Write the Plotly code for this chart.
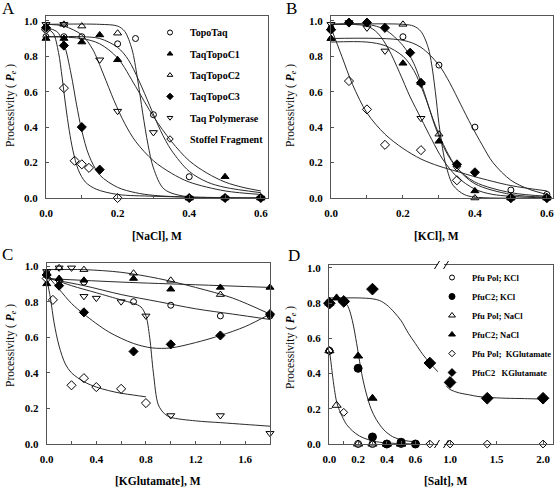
import plotly.graph_objects as go

# ---------------- DATA ----------------
# Panel A: [NaCl]
A_topotaq_x = [0, 0.05, 0.1, 0.2, 0.25, 0.3, 0.4, 0.5, 0.6]
A_topotaq_y = [0.91, 0.91, 0.91, 0.87, 0.90, 0.47, 0.12, 0.0, 0.0]
A_c1_x = [0, 0.05, 0.1, 0.15, 0.2, 0.4, 0.5, 0.6]
A_c1_y = [0.90, 0.90, 0.88, 0.92, 0.78, 0.0, 0.12, 0.0]
A_c2_x = [0, 0.05, 0.1, 0.2, 0.4, 0.5, 0.6]
A_c2_y = [0.97, 0.98, 0.97, 0.93, 0.0, 0.0, 0.0]
A_c3_x = [0, 0.05, 0.1, 0.15, 0.4, 0.5, 0.6]
A_c3_y = [0.96, 0.86, 0.40, 0.16, 0.0, 0.0, 0.0]
A_taq_x = [0, 0.05, 0.15, 0.2, 0.3, 0.4, 0.5, 0.6]
A_taq_y = [0.98, 0.98, 0.78, 0.49, 0.37, 0.0, 0.0, 0.0]
A_stof_x = [0, 0.05, 0.08, 0.1, 0.12, 0.2]
A_stof_y = [0.95, 0.62, 0.21, 0.19, 0.17, 0.0]

A_fit_stof_x = [0, 0.02, 0.035, 0.045, 0.055, 0.065, 0.075, 0.09, 0.11, 0.14, 0.2, 0.3, 0.4, 0.6]
A_fit_stof_y = [0.96, 0.93, 0.82, 0.68, 0.52, 0.38, 0.27, 0.16, 0.09, 0.05, 0.02, 0.01, 0.005, 0.0]
A_fit_c3_x = [0, 0.03, 0.05, 0.07, 0.085, 0.1, 0.12, 0.15, 0.2, 0.25, 0.3, 0.4, 0.6]
A_fit_c3_y = [0.96, 0.94, 0.87, 0.70, 0.53, 0.38, 0.24, 0.13, 0.06, 0.03, 0.015, 0.005, 0.0]
A_fit_taq_x = [0, 0.05, 0.1, 0.13, 0.16, 0.19, 0.22, 0.25, 0.3, 0.35, 0.4, 0.5, 0.6]
A_fit_taq_y = [0.98, 0.97, 0.92, 0.84, 0.70, 0.55, 0.42, 0.32, 0.21, 0.14, 0.09, 0.04, 0.02]
A_fit_topo_x = [0, 0.1, 0.15, 0.2, 0.23, 0.26, 0.29, 0.32, 0.35, 0.4, 0.45, 0.5, 0.6]
A_fit_topo_y = [0.91, 0.91, 0.90, 0.85, 0.78, 0.66, 0.52, 0.38, 0.27, 0.15, 0.09, 0.06, 0.03]
A_fit_c1_x = [0, 0.1, 0.15, 0.2, 0.25, 0.3, 0.35, 0.4, 0.45, 0.5, 0.55, 0.6]
A_fit_c1_y = [0.91, 0.90, 0.87, 0.79, 0.63, 0.46, 0.32, 0.21, 0.14, 0.09, 0.06, 0.04]
A_fit_c2_x = [0, 0.15, 0.2, 0.22, 0.24, 0.255, 0.27, 0.285, 0.3, 0.33, 0.4, 0.6]
A_fit_c2_y = [0.98, 0.98, 0.97, 0.94, 0.84, 0.68, 0.48, 0.30, 0.17, 0.05, 0.005, 0.0]

# Panel B: [KCl]
B_topotaq_x = [0, 0.2, 0.3, 0.4, 0.5, 0.6]
B_topotaq_y = [0.96, 0.91, 0.75, 0.40, 0.045, 0.02]
B_c1_x = [0, 0.2, 0.25, 0.3, 0.4, 0.5, 0.6]
B_c1_y = [0.90, 0.76, 0.65, 0.32, 0.04, 0.0, 0.0]
B_c2_x = [0, 0.2, 0.3, 0.4, 0.5, 0.6]
B_c2_y = [0.90, 0.98, 0.36, 0.0, 0.0, 0.0]
B_c3_x = [0, 0.05, 0.1, 0.15, 0.22, 0.25, 0.35, 0.4, 0.5, 0.6]
B_c3_y = [0.95, 0.99, 0.99, 0.96, 0.82, 0.65, 0.19, 0.145, 0.0, 0.0]
B_taq_x = [0, 0.05, 0.1, 0.15, 0.25, 0.35, 0.5, 0.6]
B_taq_y = [0.98, 0.99, 0.96, 0.83, 0.45, 0.17, 0.0, 0.0]
B_stof_x = [0, 0.05, 0.1, 0.15, 0.25, 0.35, 0.5, 0.6]
B_stof_y = [0.95, 0.66, 0.50, 0.30, 0.27, 0.10, 0.0, 0.0]

B_fit_stof_x = [0, 0.03, 0.06, 0.1, 0.15, 0.2, 0.25, 0.3, 0.35, 0.4, 0.5, 0.6]
B_fit_stof_y = [0.96, 0.80, 0.64, 0.48, 0.36, 0.28, 0.22, 0.18, 0.15, 0.12, 0.07, 0.04]
B_fit_taq_x = [0, 0.1, 0.13, 0.16, 0.19, 0.22, 0.25, 0.28, 0.31, 0.35, 0.4, 0.45, 0.6]
B_fit_taq_y = [0.98, 0.97, 0.93, 0.84, 0.71, 0.57, 0.45, 0.33, 0.22, 0.12, 0.05, 0.02, 0.0]
B_fit_topo_x = [0, 0.2, 0.25, 0.3, 0.33, 0.36, 0.39, 0.42, 0.45, 0.5, 0.55, 0.6]
B_fit_topo_y = [0.90, 0.89, 0.85, 0.75, 0.65, 0.53, 0.41, 0.30, 0.20, 0.10, 0.05, 0.02]
B_fit_c2_x = [0, 0.2, 0.23, 0.25, 0.27, 0.28, 0.29, 0.3, 0.31, 0.32, 0.34, 0.37, 0.4, 0.6]
B_fit_c2_y = [0.98, 0.98, 0.97, 0.94, 0.85, 0.75, 0.60, 0.42, 0.28, 0.18, 0.07, 0.02, 0.005, 0.0]
B_fit_c3_x = [0, 0.1, 0.15, 0.2, 0.23, 0.26, 0.29, 0.32, 0.35, 0.4, 0.5, 0.6]
B_fit_c3_y = [0.98, 0.98, 0.95, 0.86, 0.76, 0.59, 0.40, 0.26, 0.17, 0.09, 0.03, 0.01]
B_fit_c1_x = [0, 0.1, 0.15, 0.2, 0.23, 0.26, 0.29, 0.32, 0.35, 0.4, 0.5, 0.6]
B_fit_c1_y = [0.88, 0.88, 0.86, 0.80, 0.72, 0.58, 0.41, 0.27, 0.17, 0.08, 0.02, 0.005]

# Panel C: [KGlutamate]
C_topotaq_x = [0, 0.1, 0.3, 0.7, 1.0, 1.4, 1.8]
C_topotaq_y = [0.96, 0.92, 0.91, 0.80, 0.78, 0.72, 0.72]
C_c1_x = [0, 0.1, 0.3, 0.7, 1.0, 1.4, 1.8]
C_c1_y = [0.90, 0.93, 0.92, 0.93, 0.87, 0.88, 0.88]
C_c2_x = [0, 0.1, 0.3, 0.7, 1.0, 1.4, 1.8]
C_c2_y = [0.96, 0.99, 0.98, 0.96, 0.92, 0.84, 0.73]
C_c3_x = [0, 0.1, 0.3, 0.7, 1.0, 1.4, 1.8]
C_c3_y = [0.95, 0.89, 0.74, 0.52, 0.56, 0.61, 0.73]
C_taq_x = [0, 0.1, 0.2, 0.3, 0.4, 0.6, 0.8, 1.0, 1.4, 1.8]
C_taq_y = [0.97, 0.99, 0.99, 0.83, 0.82, 0.80, 0.72, 0.16, 0.16, 0.06]
C_stof_x = [0, 0.05, 0.2, 0.3, 0.4, 0.6, 0.8]
C_stof_y = [0.93, 0.81, 0.33, 0.37, 0.32, 0.31, 0.23]

C_fit_stof_x = [0, 0.03, 0.06, 0.1, 0.15, 0.2, 0.3, 0.4, 0.5, 0.6, 0.7, 0.8]
C_fit_stof_y = [0.93, 0.82, 0.68, 0.55, 0.45, 0.40, 0.35, 0.32, 0.30, 0.285, 0.275, 0.265]
C_fit_taq_x = [0, 0.2, 0.4, 0.6, 0.7, 0.76, 0.8, 0.83, 0.86, 0.9, 0.95, 1.0, 1.2, 1.4, 1.6, 1.8]
C_fit_taq_y = [0.94, 0.89, 0.85, 0.81, 0.79, 0.77, 0.72, 0.60, 0.40, 0.22, 0.17, 0.15, 0.13, 0.12, 0.11, 0.10]
C_fit_c3_x = [0, 0.1, 0.2, 0.3, 0.5, 0.7, 0.85, 1.0, 1.2, 1.4, 1.6, 1.8]
C_fit_c3_y = [0.95, 0.87, 0.79, 0.73, 0.63, 0.565, 0.54, 0.54, 0.57, 0.61, 0.66, 0.73]
C_fit_topo_x = [0, 0.3, 0.6, 0.9, 1.2, 1.5, 1.8]
C_fit_topo_y = [0.93, 0.89, 0.84, 0.80, 0.76, 0.73, 0.70]
C_fit_c1_x = [0, 0.6, 1.2, 1.8]
C_fit_c1_y = [0.93, 0.91, 0.895, 0.88]
C_fit_c2_x = [0, 0.3, 0.6, 0.9, 1.2, 1.5, 1.8]
C_fit_c2_y = [0.98, 0.98, 0.965, 0.93, 0.88, 0.82, 0.73]

# Panel D: [Salt], Pfu
D_pol_kcl_x = [0, 0.2, 0.3, 0.4, 0.5, 0.6]
D_pol_kcl_y = [0.53, 0.0, 0.0, 0.0, 0.0, 0.0]
D_c2_kcl_x = [0, 0.2, 0.3, 0.4, 0.5, 0.6]
D_c2_kcl_y = [0.80, 0.43, 0.04, 0.0, 0.01, 0.0]
D_pol_nacl_x = [0, 0.05, 0.2, 0.3, 0.4, 0.5]
D_pol_nacl_y = [0.53, 0.22, 0.0, 0.0, 0.0, 0.0]
D_c2_nacl_x = [0, 0.05, 0.2, 0.3, 0.4, 0.5]
D_c2_nacl_y = [0.80, 0.83, 0.50, 0.26, 0.0, 0.0]
D_pol_kglu_x = [0, 0.1, 0.7, 1.0, 1.4, 2.0]
D_pol_kglu_y = [0.53, 0.18, 0.0, 0.0, 0.0, 0.0]
D_c2_kglu_x = [0, 0.1, 0.3, 0.7, 1.0, 1.4, 2.0]
D_c2_kglu_y = [0.80, 0.81, 0.88, 0.46, 0.35, 0.26, 0.26]

D_fit_pol_x = [0, 0.01, 0.02, 0.035, 0.05, 0.07, 0.09, 0.12, 0.16, 0.21, 0.27, 0.35, 0.45, 0.6]
D_fit_pol_y = [0.53, 0.47, 0.40, 0.31, 0.24, 0.19, 0.155, 0.11, 0.075, 0.045, 0.025, 0.01, 0.004, 0.0]
D_fit_c2_x = [0, 0.05, 0.1, 0.13, 0.16, 0.19, 0.21, 0.23, 0.256, 0.29, 0.326, 0.38, 0.44, 0.52, 0.6]
D_fit_c2_y = [0.82, 0.82, 0.81, 0.78, 0.70, 0.57, 0.47, 0.38, 0.29, 0.20, 0.14, 0.08, 0.042, 0.02, 0.013]
D_fit_kglu_left_x = [0, 0.1, 0.2, 0.3, 0.35, 0.4, 0.45, 0.5, 0.55, 0.6, 0.65, 0.7, 0.757]
D_fit_kglu_left_y = [0.83, 0.83, 0.83, 0.825, 0.815, 0.79, 0.75, 0.70, 0.63, 0.57, 0.51, 0.46, 0.41]
D_fit_kglu_right_x = [0.96, 1.0, 1.1, 1.2, 1.3, 1.4, 1.6, 1.8, 2.0]
D_fit_kglu_right_y = [0.33, 0.31, 0.29, 0.28, 0.27, 0.265, 0.26, 0.258, 0.255]

D_BREAK = 0.8

LEGEND_A = ["TopoTaq", "TaqTopoC1", "TaqTopoC2", "TaqTopoC3", "Taq Polymerase", "Stoffel Fragment"]
LEGEND_D = ["Pfu Pol; KCl", "PfuC2; KCl", "Pfu Pol; NaCl", "PfuC2; NaCl",
            "Pfu Pol;\u00a0 KGlutamate", "PfuC2\u00a0\u00a0 KGlutamate"]

# ---------------- LAYOUT HELPERS ----------------
W, H = 556, 489
FONT = "Liberation Serif"


def px(x):
    return x / W


def py(y):
    return 1 - y / H


fig = go.Figure()


def add_fit(x, y, xa, ya):
    fig.add_trace(go.Scatter(x=x, y=y, mode="lines", xaxis=xa, yaxis=ya,
                             line=dict(color="#2a2a2a", width=1, shape="spline", smoothing=0.9),
                             showlegend=False, hoverinfo="skip"))


def add_pts(x, y, name, symbol, size, xa, ya):
    fig.add_trace(go.Scatter(x=x, y=y, mode="markers", name=name, xaxis=xa, yaxis=ya,
                             marker=dict(symbol=symbol, size=size, color="black",
                                         line=dict(color="black", width=1)),
                             cliponaxis=False, showlegend=False))


def add_key(name, symbol, size, xa, ya, legend):
    # legend-only entry (no data) so the key symbol can be drawn small, as in the original
    fig.add_trace(go.Scatter(x=[None], y=[None], mode="markers", name=name, xaxis=xa, yaxis=ya,
                             marker=dict(symbol=symbol, size=size, color="black",
                                         line=dict(color="black", width=1)),
                             showlegend=True, legend=legend, legendgroup=legend + name))


# Panel A
for fx, fy in [(A_fit_stof_x, A_fit_stof_y), (A_fit_c3_x, A_fit_c3_y), (A_fit_taq_x, A_fit_taq_y),
               (A_fit_topo_x, A_fit_topo_y), (A_fit_c1_x, A_fit_c1_y), (A_fit_c2_x, A_fit_c2_y)]:
    add_fit(fx, fy, "x", "y")

symA = [("circle-open", 6), ("triangle-up", 7), ("triangle-up-open", 7),
        ("diamond", 7), ("triangle-down-open", 7), ("diamond-open", 7)]
seriesA = [(A_topotaq_x, A_topotaq_y), (A_c1_x, A_c1_y), (A_c2_x, A_c2_y),
           (A_c3_x, A_c3_y), (A_taq_x, A_taq_y), (A_stof_x, A_stof_y)]
for (sx, sy), name, (sym, sz) in zip(seriesA, LEGEND_A, symA):
    add_pts(sx, sy, name, sym, sz, "x", "y")
for name, (sym, sz) in zip(LEGEND_A, symA):
    add_key(name, sym, 5, "x", "y", "legend")

# Panel B
for fx, fy in [(B_fit_stof_x, B_fit_stof_y), (B_fit_taq_x, B_fit_taq_y), (B_fit_topo_x, B_fit_topo_y),
               (B_fit_c2_x, B_fit_c2_y), (B_fit_c3_x, B_fit_c3_y), (B_fit_c1_x, B_fit_c1_y)]:
    add_fit(fx, fy, "x2", "y2")
seriesB = [(B_topotaq_x, B_topotaq_y), (B_c1_x, B_c1_y), (B_c2_x, B_c2_y),
           (B_c3_x, B_c3_y), (B_taq_x, B_taq_y), (B_stof_x, B_stof_y)]
for (sx, sy), name, (sym, sz) in zip(seriesB, LEGEND_A, symA):
    add_pts(sx, sy, name, sym, sz, "x2", "y2")

# Panel C
for fx, fy in [(C_fit_stof_x, C_fit_stof_y), (C_fit_taq_x, C_fit_taq_y), (C_fit_c3_x, C_fit_c3_y),
               (C_fit_topo_x, C_fit_topo_y), (C_fit_c1_x, C_fit_c1_y), (C_fit_c2_x, C_fit_c2_y)]:
    add_fit(fx, fy, "x3", "y3")
seriesC = [(C_topotaq_x, C_topotaq_y), (C_c1_x, C_c1_y), (C_c2_x, C_c2_y),
           (C_c3_x, C_c3_y), (C_taq_x, C_taq_y), (C_stof_x, C_stof_y)]
for (sx, sy), name, (sym, sz) in zip(seriesC, LEGEND_A, symA):
    add_pts(sx, sy, name, sym, sz, "x3", "y3")

# Panel D
add_fit(D_fit_pol_x, D_fit_pol_y, "x4", "y4")
add_fit(D_fit_c2_x, D_fit_c2_y, "x4", "y4")
add_fit(D_fit_kglu_left_x, D_fit_kglu_left_y, "x4", "y4")
add_fit(D_fit_kglu_right_x, D_fit_kglu_right_y, "x5", "y5")

symD = [("circle-open", 7), ("circle", 8), ("triangle-up-open", 8),
        ("triangle-up", 8), ("diamond-open", 6), ("diamond", 9)]
keyD = [5, 6, 6, 6, 5, 6]
seriesD = [(D_pol_kcl_x, D_pol_kcl_y), (D_c2_kcl_x, D_c2_kcl_y), (D_pol_nacl_x, D_pol_nacl_y),
           (D_c2_nacl_x, D_c2_nacl_y), (D_pol_kglu_x, D_pol_kglu_y), (D_c2_kglu_x, D_c2_kglu_y)]
for (sx, sy), name, (sym, sz) in zip(seriesD, LEGEND_D, symD):
    lx = [a for a in sx if a < D_BREAK]
    ly = [b for a, b in zip(sx, sy) if a < D_BREAK]
    rx = [a for a in sx if a > D_BREAK]
    ry = [b for a, b in zip(sx, sy) if a > D_BREAK]
    add_pts(lx, ly, name, sym, sz, "x4", "y4")
    if rx:
        add_pts(rx, ry, name, sym, sz, "x5", "y5")
for name, (sym, sz), ks in zip(LEGEND_D, symD, keyD):
    add_key(name, sym, ks, "x4", "y4", "legend2")

# ---------------- AXES ----------------
tickfont = dict(family=FONT, size=11, color="black", weight="bold")
FRAME = "#555555"


def xax(domain, rng, dtick, minor, anchor, mirror=True):
    return dict(domain=[px(domain[0]), px(domain[1])], range=rng, anchor=anchor,
                showline=True, linecolor=FRAME, linewidth=1, mirror=mirror,
                ticks="inside", ticklen=3, tickcolor=FRAME, dtick=dtick, tick0=0,
                minor=dict(dtick=minor, ticks="inside", ticklen=3, tickcolor=FRAME) if minor else None,
                tickformat=".1f", tickfont=tickfont, ticklabelstandoff=5,
                showgrid=False, zeroline=False, fixedrange=True, automargin=False)


def yax(domain, rng, anchor, mirror=True):
    return dict(domain=[py(domain[1]), py(domain[0])], range=rng, anchor=anchor,
                showline=True, linecolor=FRAME, linewidth=1, mirror=mirror,
                ticks="inside", ticklen=3, tickcolor=FRAME, dtick=0.2, tick0=0,
                tickformat=".1f", tickfont=tickfont, ticklabelstandoff=5,
                showgrid=False, zeroline=False, fixedrange=True, automargin=False)


layout = dict(
    width=W, height=H, margin=dict(l=0, r=0, t=0, b=0, autoexpand=False),
    paper_bgcolor="white", plot_bgcolor="white",
    font=dict(family=FONT, color="black"),
    xaxis=xax((46, 268), [0, 0.62], 0.2, 0.1, "y"),
    yaxis=yax((16, 198), [0, 1.027], "x"),
    xaxis2=xax((331, 553), [0, 0.617], 0.2, 0.1, "y2"),
    yaxis2=yax((16, 198), [0, 1.027], "x2"),
    xaxis3=xax((46.7, 270), [0, 1.8], 0.4, 0.2, "y3"),
    yaxis3=yax((262.7, 444), [0, 1.019], "x3"),
    xaxis4=xax((329, 438), [-0.003, 0.757], 0.2, 0.1, "y4"),
    yaxis4=yax((265, 444), [0, 1.017], "x4", mirror=False),
    xaxis5=xax((444, 553), [0.935, 2.107], 0.5, None, "y5"),
    yaxis5=dict(domain=[py(444), py(265)], range=[0, 1.017], anchor="x5", side="right",
                showline=True, linecolor=FRAME, linewidth=1, ticks="", showticklabels=False,
                showgrid=False, zeroline=False, fixedrange=True),
    legend=dict(x=px(150), y=py(18), xanchor="left", yanchor="top",
                font=dict(family=FONT, size=10, color="black", weight="bold"),
                bgcolor="rgba(0,0,0,0)", traceorder="grouped", tracegroupgap=2.3,
                itemwidth=30, itemclick=False),
    legend2=dict(x=px(432), y=py(263), xanchor="left", yanchor="top",
                 font=dict(family=FONT, size=8.5, color="black", weight="bold"),
                 bgcolor="rgba(0,0,0,0)", traceorder="grouped", tracegroupgap=0,
                 itemwidth=30, itemclick=False),
)
fig.update_layout(**layout)

# ---------------- TEXT ----------------
ytitle = "Processivity ( <b><i>P</i></b><sub><i>e</i></sub> )"
annots = [
    ("A", 8, 8, 17, 0, "normal"), ("B", 291, 8, 17, 0, "normal"),
    ("C", 7, 254, 17, 0, "normal"), ("D", 294, 255, 17, 0, "normal"),
    ("[NaCl], M", 157, 236, 11.5, 0, "bold"), ("[KCl], M", 436, 236, 11.5, 0, "bold"),
    ("[KGlutamate], M", 158, 481, 11.5, 0, "bold"), ("[Salt], M", 446, 481, 11.5, 0, "bold"),
    (ytitle, 11, 106, 11.5, -90, "normal"), (ytitle, 291, 106, 11.5, -90, "normal"),
    (ytitle, 11, 346, 11.5, -90, "normal"), (ytitle, 291, 348, 11.5, -90, "normal"),
]
for text, x, y, size, ang, wt in annots:
    fig.add_annotation(text=text, x=px(x), y=py(y), xref="paper", yref="paper",
                       xanchor="center", yanchor="middle", showarrow=False, textangle=ang,
                       font=dict(family=FONT, size=size, color="black", weight=wt))

# axis-break marks in panel D
for bx in (437, 446):
    for by in (444, 265):
        fig.add_shape(type="line", xref="paper", yref="paper",
                      x0=px(bx - 2.5), y0=py(by + 4), x1=px(bx + 2.5), y1=py(by - 4),
                      line=dict(color="black", width=1))

fig.write_html("out.html", config={"displayModeBar": False},
               post_script="document.body.style.margin='0px';document.body.style.padding='0px';"
                           "document.body.style.overflow='hidden';")
